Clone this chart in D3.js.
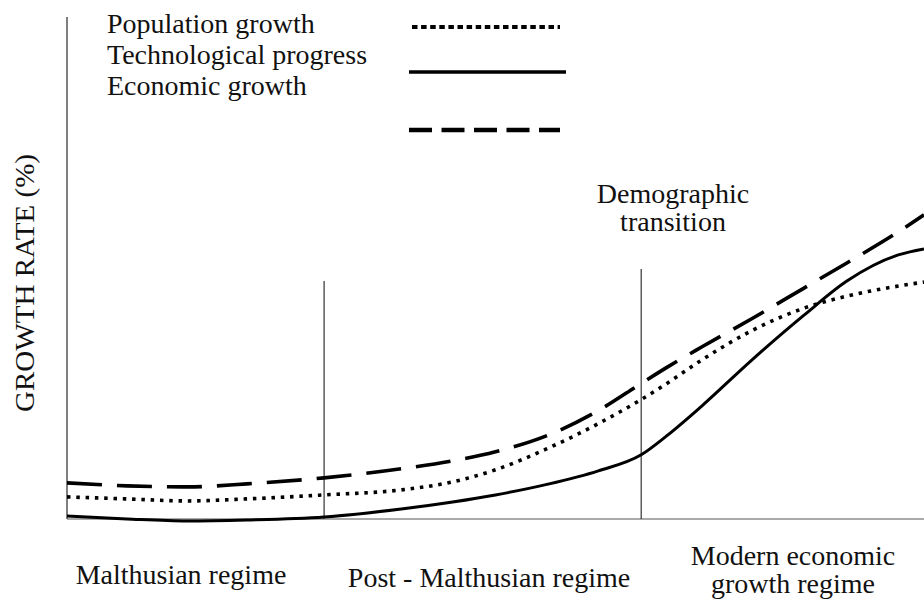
<!DOCTYPE html>
<html>
<head>
<meta charset="utf-8">
<script src="https://cdn.jsdelivr.net/npm/d3@7"></script>
<style>
  body { margin: 0; background: #fff; }
  svg text { font-family: "Liberation Serif", "DejaVu Serif", serif; fill: #111; }
</style>
</head>
<body>
<div id="chart"></div>
<script>
// values, x is a 0-100 time index, y is growth rate (arbitrary units)
var seriesNames = ["Population growth", "Technological progress", "Economic growth"];
var timeIndex    = [0, 7, 14, 21, 30, 39, 45, 50, 56, 62, 67, 70, 74, 80, 86, 91, 97, 100];
var popGrowth    = [4.4, 4.0, 3.6, 4.0, 4.8, 5.8, 7.4, 9.8, 14.0, 19.0, 23.8, 27.0, 31.6, 37.6, 42.0, 44.4, 46.4, 47.2];
var techProgress = [0.6, 0.0, -0.4, -0.2, 0.4, 2.0, 3.4, 4.8, 6.9, 9.6, 12.8, 16.6, 22.4, 31.8, 40.6, 47.4, 52.6, 53.8];
var econGrowth   = [7.2, 6.6, 6.4, 7.0, 8.2, 10.0, 11.6, 13.4, 16.6, 21.6, 27.0, 30.2, 34.2, 40.0, 46.0, 51.0, 57.2, 60.6];

// regime boundaries (x) and how high their marker lines go (y)
var boundaryX      = [30, 67];
var boundaryHeight = [47.4, 49.8];
var regimeLabels   = [["Malthusian regime"], ["Post - Malthusian regime"], ["Modern economic", "growth regime"]];
var transitionLabel = ["Demographic", "transition"];
var yAxisLabel = "GROWTH RATE (%)";

var width = 924, height = 599;

var svg = d3.select("#chart").append("svg")
    .attr("width", width)
    .attr("height", height);

var x = d3.scaleLinear().domain([0, 100]).range([67, 924]);
var y = d3.scaleLinear().domain([0, 100]).range([519, 17]);

// line styles per series (legend dashes are shorter than the chart ones)
var styles = [
    {dash: "3.5,5.8", width: 3.6, legendDash: "5.5,3.6", legendWidth: 4},
    {dash: null, width: 3, legendDash: null, legendWidth: 3.5},
    {dash: "35,15", width: 3.6, legendDash: "23,9.5", legendWidth: 4.5}
];
var seriesValues = [popGrowth, techProgress, econGrowth];

// axes: plain lines, no ticks
svg.append("line")
    .attr("x1", x(0)).attr("x2", x(100))
    .attr("y1", y(0)).attr("y2", y(0))
    .attr("stroke", "#aaa")
    .attr("stroke-width", 2);

svg.append("line")
    .attr("x1", x(0)).attr("x2", x(0))
    .attr("y1", y(0)).attr("y2", y(100))
    .attr("stroke", "#555")
    .attr("stroke-width", 1.5);

// regime boundary lines
svg.selectAll(".boundary")
    .data(boundaryX)
    .enter().append("line")
    .attr("class", "boundary")
    .attr("x1", function(d) { return x(d); })
    .attr("x2", function(d) { return x(d); })
    .attr("y1", y(0))
    .attr("y2", function(d, i) { return y(boundaryHeight[i]); })
    .attr("stroke", "#333")
    .attr("stroke-width", 1.2);

var line = d3.line()
    .x(function(d) { return x(d[0]); })
    .y(function(d) { return y(d[1]); })
    .curve(d3.curveMonotoneX);

svg.selectAll(".series")
    .data(seriesValues)
    .enter().append("path")
    .attr("class", "series")
    .attr("d", function(vals) { return line(timeIndex.map(function(t, i) { return [t, vals[i]]; })); })
    .attr("fill", "none")
    .attr("stroke", "#000")
    .attr("stroke-width", function(d, i) { return styles[i].width; })
    .attr("stroke-dasharray", function(d, i) { return styles[i].dash; });

// legend: names stacked on the left, line samples on the right
var legendY = [33, 64, 95];
var legendLineY = [27, 72, 130];
var legendLineX = [[412, 560], [409, 566], [409, 560]];

svg.selectAll(".legendText")
    .data(seriesNames)
    .enter().append("text")
    .attr("class", "legendText")
    .attr("x", 107)
    .attr("y", function(d, i) { return legendY[i]; })
    .attr("font-size", "28px")
    .text(function(d) { return d; });

svg.selectAll(".legendLine")
    .data(seriesNames)
    .enter().append("line")
    .attr("class", "legendLine")
    .attr("x1", function(d, i) { return legendLineX[i][0]; })
    .attr("x2", function(d, i) { return legendLineX[i][1]; })
    .attr("y1", function(d, i) { return legendLineY[i]; })
    .attr("y2", function(d, i) { return legendLineY[i]; })
    .attr("stroke", "#000")
    .attr("stroke-width", function(d, i) { return styles[i].legendWidth; })
    .attr("stroke-dasharray", function(d, i) { return styles[i].legendDash; });

// y axis title
svg.append("text")
    .attr("transform", "translate(34," + 283 + ") rotate(-90)")
    .attr("text-anchor", "middle")
    .attr("font-size", "28px")
    .attr("textLength", 258)
    .attr("lengthAdjust", "spacingAndGlyphs")
    .text(yAxisLabel);

// regime names under the axis
var regimeX = [181, 489, 793];
var regimeY = [584, 587, 565];
svg.selectAll(".regime")
    .data(regimeLabels)
    .enter().append("text")
    .attr("class", "regime")
    .attr("x", function(d, i) { return regimeX[i]; })
    .attr("y", function(d, i) { return regimeY[i]; })
    .attr("text-anchor", "middle")
    .attr("font-size", "28px")
    .each(function(lines, i) {
        d3.select(this).selectAll("tspan")
            .data(lines)
            .enter().append("tspan")
            .attr("x", regimeX[i])
            .attr("dy", function(d, j) { return j == 0 ? 0 : 28; })
            .text(function(d) { return d; });
    });

// demographic transition note above the second boundary
svg.append("text")
    .attr("x", 673)
    .attr("y", 203)
    .attr("text-anchor", "middle")
    .attr("font-size", "28px")
    .selectAll("tspan")
    .data(transitionLabel)
    .enter().append("tspan")
    .attr("x", 673)
    .attr("dy", function(d, j) { return j == 0 ? 0 : 28; })
    .text(function(d) { return d; });
</script>
</body>
</html>
